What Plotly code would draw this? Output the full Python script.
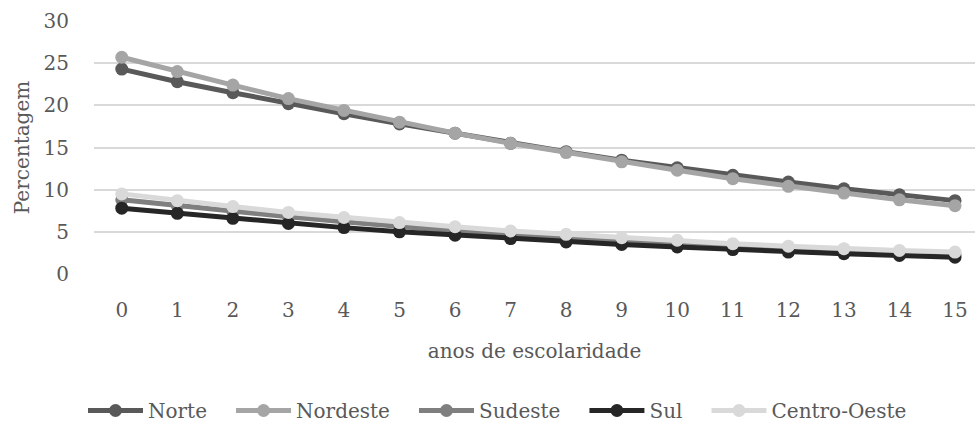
import plotly.graph_objects as go

anos = list(range(16))

norte = [24.3, 22.8, 21.5, 20.2, 19.0, 17.8, 16.7, 15.5, 14.5, 13.5, 12.6, 11.7, 10.9, 10.1, 9.4, 8.7]
nordeste = [25.7, 24.0, 22.4, 20.8, 19.4, 18.0, 16.7, 15.5, 14.4, 13.3, 12.3, 11.3, 10.4, 9.6, 8.8, 8.1]
sudeste = [8.8, 8.1, 7.4, 6.8, 6.2, 5.6, 5.1, 4.7, 4.3, 3.9, 3.6, 3.3, 3.0, 2.7, 2.5, 2.3]
sul = [7.8, 7.2, 6.6, 6.0, 5.5, 5.0, 4.6, 4.2, 3.8, 3.5, 3.2, 2.9, 2.6, 2.4, 2.2, 2.0]
centro_oeste = [9.5, 8.7, 8.0, 7.3, 6.7, 6.1, 5.6, 5.1, 4.7, 4.3, 4.0, 3.6, 3.3, 3.0, 2.8, 2.6]

series = [
    ("Norte", norte, "#595959"),
    ("Nordeste", nordeste, "#A5A5A5"),
    ("Sudeste", sudeste, "#7F7F7F"),
    ("Sul", sul, "#262626"),
    ("Centro-Oeste", centro_oeste, "#D9D9D9"),
]

font_family = "DejaVu Serif"
text_color = "#595959"
txt = dict(family=font_family, size=20, color=text_color)
pad = "&nbsp;" * 3  # extra room between legend entries

fig = go.Figure()
for i, (name, vals, color) in enumerate(series):
    label = name + (pad if i < len(series) - 1 else "")
    fig.add_trace(go.Scatter(
        x=anos, y=vals, name=label, mode="lines+markers",
        line=dict(color=color, width=5),
        marker=dict(color=color, size=13),
        hovertemplate=name + ": %{y}<extra></extra>",
    ))

fig.update_layout(
    width=975, height=430,
    margin=dict(l=94, r=0, t=21, b=153),
    plot_bgcolor="white", paper_bgcolor="white",
    font=txt,
    showlegend=True,
    legend=dict(orientation="h", x=0.458, xanchor="center", y=-0.54, yanchor="middle",
                font=txt, itemwidth=55, tracegroupgap=0),
)
fig.update_xaxes(
    range=[-0.5, 15.36], tickmode="array", tickvals=anos, ticktext=[str(a) for a in anos],
    showgrid=False, zeroline=False, showline=False, ticks="",
    ticklabelstandoff=22, tickfont=txt,
    title=dict(text="anos de escolaridade", standoff=22, font=txt),
)
fig.update_yaxes(
    range=[0, 30], tickvals=[0, 5, 10, 15, 20, 25, 30],
    showgrid=True, gridcolor="#D9D9D9", gridwidth=1.5, zeroline=False, showline=False, ticks="",
    ticklabelstandoff=24, tickfont=txt,
    title=dict(text="Percentagem", standoff=8, font=txt),
)

fig.write_html("out.html")
